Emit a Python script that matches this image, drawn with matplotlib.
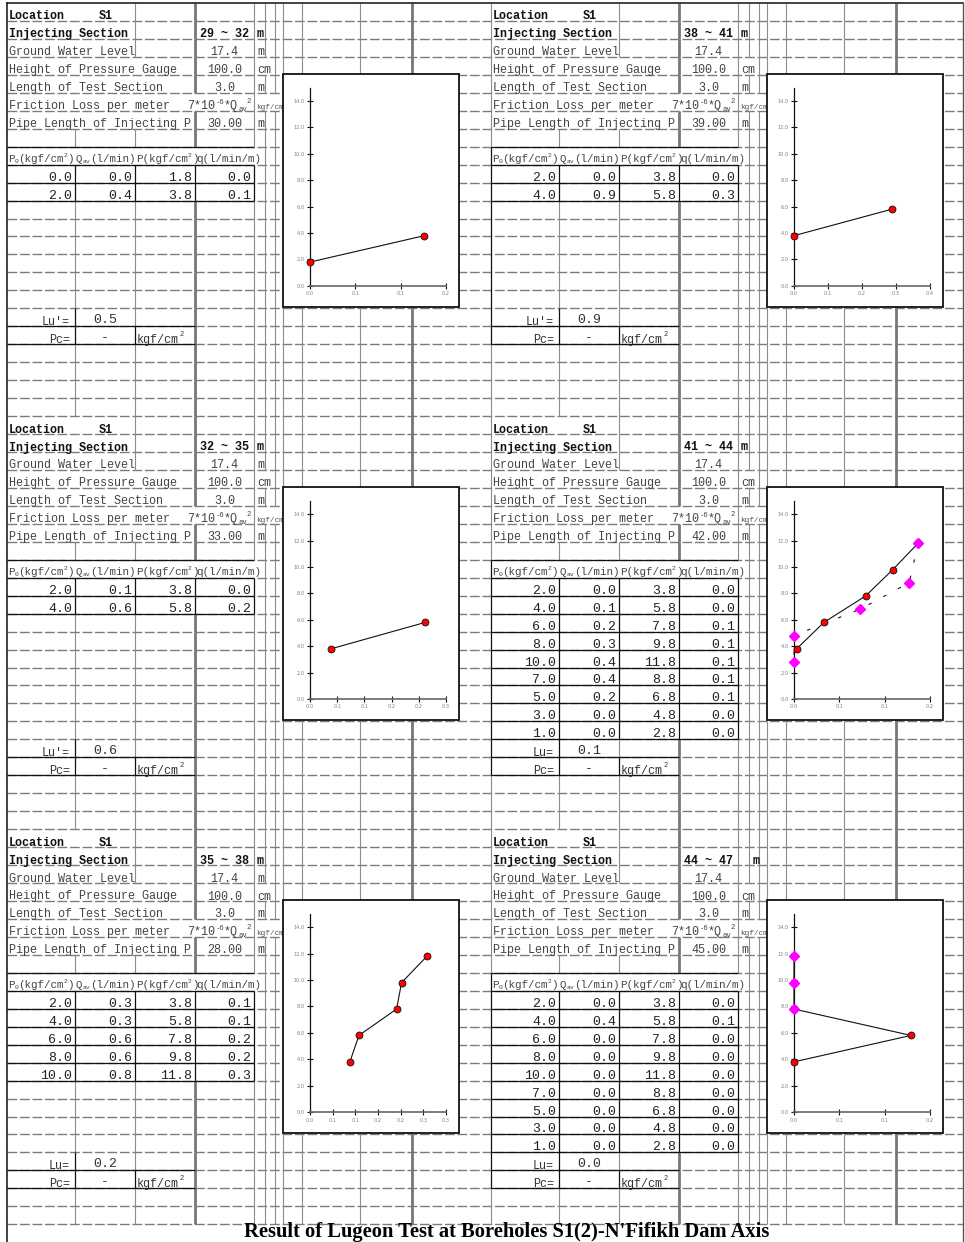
"""Lugeon test sheet for boreholes S1(2) - six test sections with P-q charts."""

from decimal import Decimal, ROUND_HALF_UP

import numpy as np
import matplotlib
matplotlib.use("Agg")
import matplotlib.pyplot as plt
from matplotlib.patches import Rectangle
from matplotlib.collections import LineCollection

W, H = 965, 1242
PT = 100 / 72          # pixels per point at dpi=100
MONO = "Liberation Mono"

# ---- sheet data (panel order: top-left, top-right, mid-left, mid-right, bottom-left, bottom-right)
SECTION = ["29 ~ 32", "38 ~ 41", "32 ~ 35", "41 ~ 44", "35 ~ 38", "44 ~ 47"]
GWL = [17.4, 17.4, 17.4, 17.4, 17.4, 17.4]
GWL_UNIT = ["m", "", "m", "", "m", ""]
GAUGE = [100.0, 100.0, 100.0, 100.0, 100.0, 100.0]
TEST_LEN = [3.0, 3.0, 3.0, 3.0, 3.0, 3.0]
PIPE_LEN = [30.0, 39.0, 33.0, 42.0, 28.0, 45.0]
LU = [0.5, 0.9, 0.6, 0.1, 0.2, 0.0]
LU_TAG = ["Lu'=", "Lu'=", "Lu'=", "Lu=", "Lu=", "Lu="]

P0_1 = [0.0, 2.0]
QAV_1 = [0.0, 0.4]
P_1 = [1.8, 3.8]
Q_1 = [0.0, 0.126]

P0_2 = [2.0, 4.0]
QAV_2 = [0.0, 0.9]
P_2 = [3.8, 5.8]
Q_2 = [0.0, 0.287]

P0_3 = [2.0, 4.0]
QAV_3 = [0.1, 0.6]
P_3 = [3.8, 5.8]
Q_3 = [0.039, 0.212]

P0_4 = [2.0, 4.0, 6.0, 8.0, 10.0, 7.0, 5.0, 3.0, 1.0]
QAV_4 = [0.0, 0.1, 0.2, 0.3, 0.4, 0.4, 0.2, 0.0, 0.0]
P_4 = [3.8, 5.8, 7.8, 9.8, 11.8, 8.8, 6.8, 4.8, 2.8]
Q_4 = [0.003, 0.033, 0.079, 0.109, 0.137, 0.127, 0.073, 0.0, 0.0]

P0_5 = [2.0, 4.0, 6.0, 8.0, 10.0]
QAV_5 = [0.3, 0.3, 0.6, 0.6, 0.8]
P_5 = [3.8, 5.8, 7.8, 9.8, 11.8]
Q_5 = [0.088, 0.108, 0.191, 0.202, 0.258]

P0_6 = [2.0, 4.0, 6.0, 8.0, 10.0, 7.0, 5.0, 3.0, 1.0]
QAV_6 = [0.0, 0.4, 0.0, 0.0, 0.0, 0.0, 0.0, 0.0, 0.0]
P_6 = [3.8, 5.8, 7.8, 9.8, 11.8, 8.8, 6.8, 4.8, 2.8]
Q_6 = [0.0, 0.129, 0.0, 0.0, 0.0, 0.0, 0.0, 0.0, 0.0]

# pressure-release points shown in magenta
DOWN_Q_4 = Q_4[4:]
DOWN_P_4 = P_4[4:]
DOWN_Q_6 = [0.0, 0.0, 0.0]
DOWN_P_6 = [11.8, 9.8, 7.8]

X_MAX = [0.15, 0.4, 0.25, 0.15, 0.3, 0.15]
X_STEP = [0.05, 0.1, 0.05, 0.05, 0.05, 0.05]

TITLE = "Result of Lugeon Test at Boreholes S1(2)-N'Fifikh Dam Axis"

panels = [
    dict(p0=P0_1, qav=QAV_1, p=P_1, q=Q_1, up=2, down=None),
    dict(p0=P0_2, qav=QAV_2, p=P_2, q=Q_2, up=2, down=None),
    dict(p0=P0_3, qav=QAV_3, p=P_3, q=Q_3, up=2, down=None),
    dict(p0=P0_4, qav=QAV_4, p=P_4, q=Q_4, up=5, down=(DOWN_Q_4, DOWN_P_4), dashed=True),
    dict(p0=P0_5, qav=QAV_5, p=P_5, q=Q_5, up=5, down=None),
    dict(p0=P0_6, qav=QAV_6, p=P_6, q=Q_6, up=5, down=(DOWN_Q_6, DOWN_P_6), dashed=False),
]

# ---- sheet geometry (pixels)
ROW_Y = 3 + 17.96 * np.arange(70)
COLS = [7, 75, 135, 195, 254, 265, 275, 283, 302, 360, 412]
THICK = {195, 412}
HALF = 484
BLOCK = 23

fig = plt.figure(figsize=(W / 100, H / 100), dpi=100)
ax = fig.add_axes([0, 0, 1, 1])
ax.set_xlim(0, W)
ax.set_ylim(H, 0)
ax.axis("off")


def rich(x, y, parts, color="#333", weight="normal", z=4):
    """Monospace text with sub/superscript pieces: parts = (text, size, rise_px)."""
    for txt, size, rise in parts:
        ax.text(x, y - rise, txt, fontsize=size, family=MONO, color=color,
                fontweight=weight, ha="left", va="baseline", zorder=z)
        x += len(txt) * 0.6 * size * PT


def cell_text(x, y, s, ha="left", size=8.5, color="#444", weight="normal"):
    ax.text(x, y, s, fontsize=size, family=MONO, color=color, fontweight=weight,
            ha=ha, va="baseline", zorder=4)


# dashed row lines
for k in range(1, 69):
    ax.plot([7, 963], [ROW_Y[k]] * 2, color="#7c7c7c", lw=1.0, dashes=(7, 2), zorder=1)
ax.plot([7, 963], [ROW_Y[0]] * 2, color="#222", lw=1.2, zorder=3)
ax.plot([7, 7], [ROW_Y[0], H], color="#222", lw=1.2, zorder=3)
ax.plot([963, 963], [ROW_Y[0], H], color="#555", lw=1.0, zorder=3)

# column lines, row by row (overflowing text hides them, table cells get black borders)
thin, thick, black = [], [], []
for r in range(68):
    b, rr = divmod(r, BLOCK)
    slots = 8 if b == 0 else 9
    lu = 9 + slots
    for h in range(2):
        n = len(panels[2 * b + h]["p0"])
        for x in COLS:
            if h == 0 and x == 7:
                continue
            if rr <= 6 and x == 75:
                continue
            if 3 <= rr <= 6 and x == 135:
                continue
            if rr == 5 and x in (195, 265, 275):
                continue
            if rr == 3 and x == 265:
                continue
            if rr == 8 and x in (75, 135, 195, 254):
                continue
            seg = [(x + HALF * h, ROW_Y[r]), (x + HALF * h, ROW_Y[r + 1])]
            is_black = ((9 <= rr < 9 + n and x in (7, 75, 135, 195, 254))
                        or (rr == lu and x in (7, 75))
                        or (rr == lu + 1 and x in (7, 75, 135))
                        or (8 <= rr <= lu + 1 and x == 7))
            if is_black:
                black.append(seg)
            elif x in THICK:
                thick.append(seg)
            else:
                thin.append(seg)
ax.add_collection(LineCollection(thin, colors="#8c8c8c", linewidths=0.8, zorder=2))
ax.add_collection(LineCollection(thick, colors="#777777", linewidths=2.0, zorder=2))
ax.add_collection(LineCollection(black, colors="#111111", linewidths=0.9, zorder=3))


def xl_label(v):
    # spreadsheet-style rounding: 0.05 -> 0.1, 0.15 -> 0.2
    d = Decimal(str(round(float(v), 6)))
    return str(d.quantize(Decimal("0.1"), rounding=ROUND_HALF_UP))


def draw_chart(i, bx, by):
    pnl = panels[i]
    ax.add_patch(Rectangle((bx, by), 176, 233, facecolor="white", edgecolor="#111",
                           lw=1.3, zorder=6))
    c = fig.add_axes([(bx + 27) / W, 1 - (by + 212) / H, 136 / W, 198 / H])
    c.patch.set_visible(False)
    c.set_xlim(0, X_MAX[i])
    c.set_ylim(0, 15)
    for s in ("top", "right"):
        c.spines[s].set_visible(False)
    c.spines["left"].set_color("#111")
    c.spines["left"].set_linewidth(0.9)
    c.spines["bottom"].set_color("#666")
    c.spines["bottom"].set_linewidth(1.2)
    yt = np.arange(0, 15, 2.0)
    c.set_yticks(yt)
    c.set_yticklabels([f"{v:.1f}" for v in yt])
    xt = np.round(np.arange(0, X_MAX[i] + X_STEP[i] / 2, X_STEP[i]), 6)
    c.set_xticks(xt)
    c.set_xticklabels([xl_label(v) for v in xt])
    c.tick_params(direction="inout", length=4, width=0.8, color="#111",
                  labelsize=3.6, labelcolor="#808080", pad=2)

    k = pnl["up"]
    c.plot(pnl["q"][:k], pnl["p"][:k], color="#111", lw=0.8, zorder=3, clip_on=False)
    if pnl["down"] is not None:
        dq, dp = pnl["down"]
        if pnl["dashed"]:
            c.plot(dq, dp, color="#111", lw=0.8, linestyle=(0, (3, 12)), zorder=3,
                   clip_on=False)
    c.plot(pnl["q"][:k], pnl["p"][:k], "o", ms=5, mfc="#ff0000", mec="#111",
           mew=0.6, zorder=4, clip_on=False)
    if pnl["down"] is not None:
        c.plot(dq, dp, "D", ms=5, mfc="#ff00ff", mec="#ff00ff", zorder=5,
               clip_on=False)


for i, pnl in enumerate(panels):
    b, h = divmod(i, 2)
    base = BLOCK * b
    off = HALF * h
    slots = 8 if b == 0 else 9
    lu = 9 + slots
    n = len(pnl["p0"])

    def by(k, lift=1.5):
        return ROW_Y[base + k + 1] - lift

    # header block
    cell_text(off + 9, by(0), "Location", color="#111", weight="bold")
    cell_text(off + 106, by(0), "S1", ha="center", color="#111", weight="bold")
    cell_text(off + 9, by(1), "Injecting Section", color="#111", weight="bold")
    cell_text(off + 225, by(1), SECTION[i], ha="center", color="#111", weight="bold")
    cell_text(off + (269 if i == 5 else 257), by(1), "m", color="#111", weight="bold")
    cell_text(off + 9, by(2), "Ground Water Level")
    cell_text(off + 224.5, by(2), f"{GWL[i]:.1f}", ha="center")
    cell_text(off + 257, by(2), GWL_UNIT[i])
    cell_text(off + 9, by(3), "Height of Pressure Gauge")
    cell_text(off + 224.5, by(3), f"{GAUGE[i]:.1f}", ha="center")
    cell_text(off + 257, by(3), "cm")
    cell_text(off + 9, by(4), "Length of Test Section")
    cell_text(off + 224.5, by(4), f"{TEST_LEN[i]:.1f}", ha="center")
    cell_text(off + 257, by(4), "m")
    cell_text(off + 9, by(5), "Friction Loss per meter")
    rich(off + 187, by(5), [("7*10", 8.5, 0), ("-6", 5.2, 5), ("*Q", 8.5, 0),
                            ("av", 5.2, -2), ("2", 5.2, 6)], color="#444")
    rich(off + 256, by(5), [("kgf/cm", 5.6, 0), ("2", 4, 5)], color="#555")
    cell_text(off + 9, by(6), "Pipe Length of Injecting P")
    cell_text(off + 224.5, by(6), f"{PIPE_LEN[i]:.2f}", ha="center")
    cell_text(off + 257, by(6), "m")

    # table header
    hs, ss = 7.8, 4.6
    rich(off + 8, by(8, 3), [("P", hs, 0), ("0", ss, -1.5), ("(kgf/cm", hs, 0),
                             ("2", ss, 5), (")", hs, 0)], color="#444")
    rich(off + 76, by(8, 3), [("Q", hs, 0), ("av", ss, -1.5), ("(l/min)", hs, 0)],
         color="#444")
    rich(off + 136, by(8, 3), [("P(kgf/cm", hs, 0), ("2", ss, 5), (")", hs, 0)],
         color="#444")
    rich(off + 196, by(8, 3), [("q(l/min/m)", hs, 0)], color="#444")

    # black table borders
    segs = [[(off + 7, ROW_Y[base + 8]), (off + 254, ROW_Y[base + 8])]]
    for k in range(9, 10 + n):
        segs.append([(off + 7, ROW_Y[base + k]), (off + 254, ROW_Y[base + k])])
    for k in (lu + 1, lu + 2):
        segs.append([(off + 7, ROW_Y[base + k]), (off + 195, ROW_Y[base + k])])
    ax.add_collection(LineCollection(segs, colors="#111", linewidths=0.9, zorder=3))

    # test readings
    for j in range(n):
        y = by(9 + j, 2)
        cell_text(off + 72, y, f"{pnl['p0'][j]:.1f}", ha="right", size=9.5, color="#222")
        cell_text(off + 132, y, f"{pnl['qav'][j]:.1f}", ha="right", size=9.5, color="#222")
        cell_text(off + 192, y, f"{pnl['p'][j]:.1f}", ha="right", size=9.5, color="#222")
        cell_text(off + 251, y, f"{pnl['q'][j]:.1f}", ha="right", size=9.5, color="#222")

    # Lugeon value and critical pressure
    cell_text(off + 70, by(lu), LU_TAG[i], ha="right", color="#333")
    cell_text(off + 105, by(lu, 3), f"{LU[i]:.1f}", ha="center", size=9.5, color="#333")
    cell_text(off + 70, by(lu + 1), "Pc=", ha="right", color="#333")
    cell_text(off + 105, by(lu + 1, 3), "-", ha="center", size=9.5, color="#333")
    rich(off + 137, by(lu + 1), [("kgf/cm", 8.5, 0), ("2", 5, 7)], color="#333")

    draw_chart(i, off + 283, ROW_Y[base + 4] - 1)

ax.text(507, 1236.5, TITLE, fontsize=14.8, family="Liberation Serif", fontweight="bold",
        ha="center", va="baseline", color="#000", zorder=4)

fig.savefig("out.png", dpi=100)
plt.close(fig)
